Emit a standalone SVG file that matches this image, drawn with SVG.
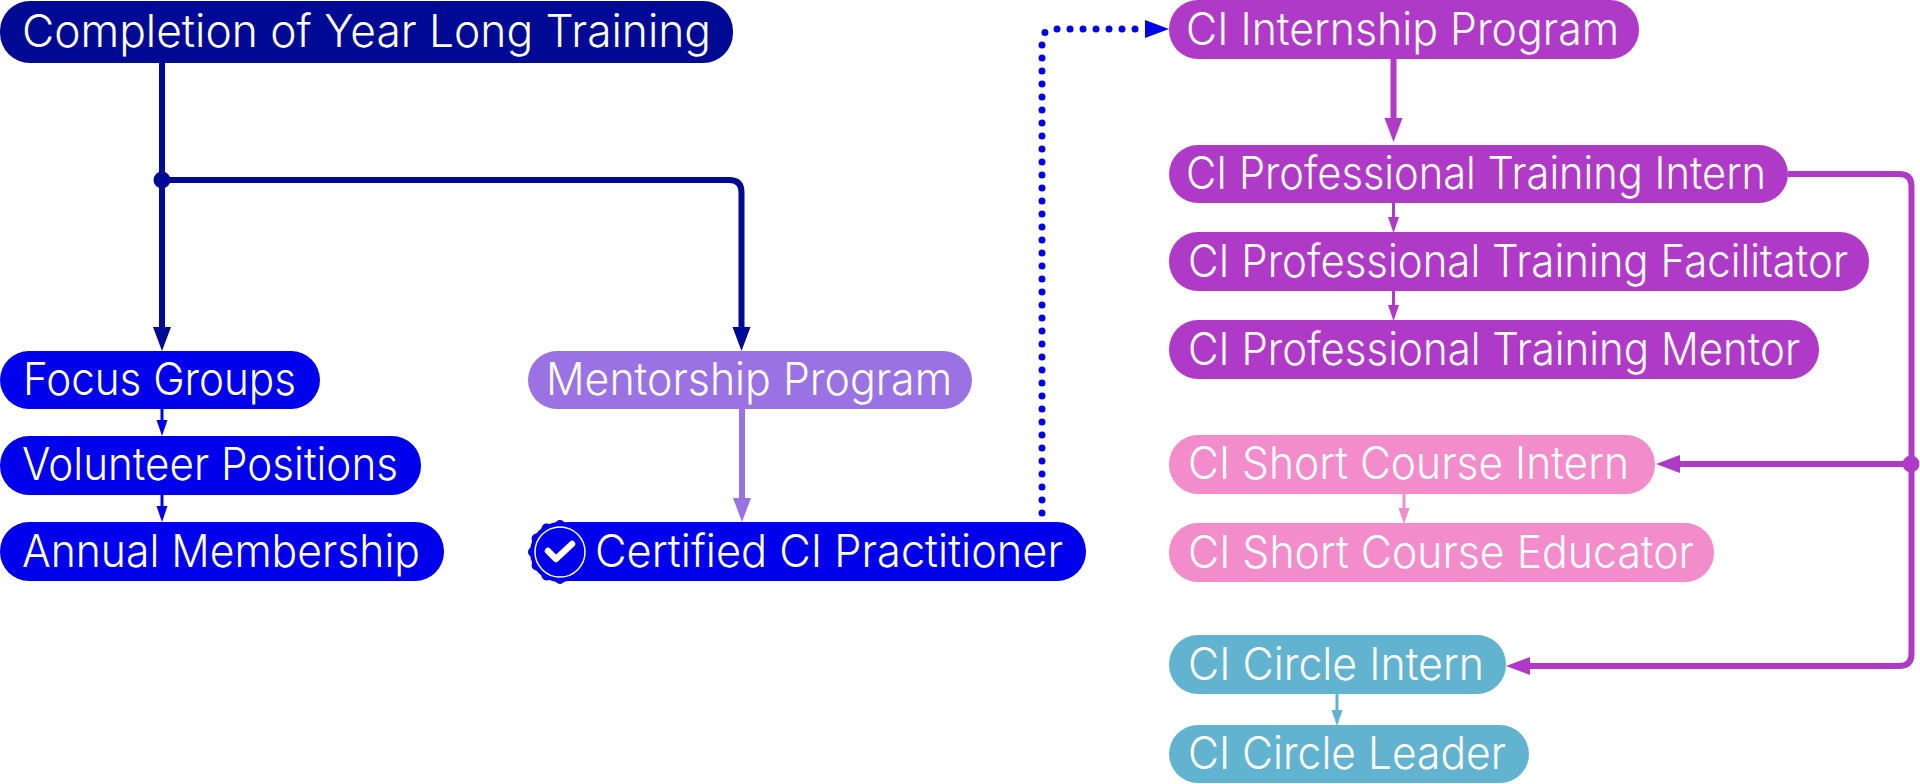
<svg xmlns="http://www.w3.org/2000/svg" width="1920" height="784" viewBox="0 0 1920 784">
<style>
text{font-family:"Inter","Liberation Sans",sans-serif;font-weight:300;font-size:45px;fill:#fff}
.c{fill:none;stroke-linecap:butt;stroke-linejoin:round}
.navy{fill:#000A94}.blue{fill:#0000EA}.lav{fill:#9B72E4}.pur{fill:#B03AC8}.pink{fill:#F28CCA}.teal{fill:#62B3D0}
.s-navy{stroke:#000A94}.s-blue{stroke:#0000EA}.s-lav{stroke:#9B72E4}.s-pur{stroke:#B03AC8}.s-pink{stroke:#F28CCA}.s-teal{stroke:#62B3D0}
.w6{stroke-width:6}.w3{stroke-width:3}
</style>
<defs>
<marker id="bn" markerUnits="userSpaceOnUse" markerWidth="25" markerHeight="20" refX="0" refY="10" orient="auto"><path class="navy" d="M0 1L24 10L0 19Z"/></marker>
<marker id="bl" markerUnits="userSpaceOnUse" markerWidth="25" markerHeight="20" refX="0" refY="10" orient="auto"><path class="lav" d="M0 1L24 10L0 19Z"/></marker>
<marker id="bb" markerUnits="userSpaceOnUse" markerWidth="25" markerHeight="20" refX="0" refY="10" orient="auto"><path class="blue" d="M0 1L24 10L0 19Z"/></marker>
<marker id="bp" markerUnits="userSpaceOnUse" markerWidth="25" markerHeight="20" refX="0" refY="10" orient="auto"><path class="pur" d="M0 1L24 10L0 19Z"/></marker>
<marker id="sb" markerUnits="userSpaceOnUse" markerWidth="16" markerHeight="12" refX="0" refY="6" orient="auto"><path class="blue" d="M0 .5L16 6L0 11.500Z"/></marker>
<marker id="sp" markerUnits="userSpaceOnUse" markerWidth="16" markerHeight="12" refX="0" refY="6" orient="auto"><path class="pur" d="M0 .5L16 6L0 11.500Z"/></marker>
<marker id="sk" markerUnits="userSpaceOnUse" markerWidth="16" markerHeight="12" refX="0" refY="6" orient="auto"><path class="pink" d="M0 .5L16 6L0 11.500Z"/></marker>
<marker id="st" markerUnits="userSpaceOnUse" markerWidth="16" markerHeight="12" refX="0" refY="6" orient="auto"><path class="teal" d="M0 .5L16 6L0 11.500Z"/></marker>
</defs>
<g id="connectors">
<path class="c s-navy w6" d="M162 60V327" marker-end="url(#bn)"/>
<path class="c s-navy w6" d="M162 180H729Q741.500 180 741.500 192V327" marker-end="url(#bn)"/>
<circle class="navy" cx="162" cy="180" r="8.500"/>
<path class="c s-blue w3" d="M162 409V420" marker-end="url(#sb)"/>
<path class="c s-blue w3" d="M162 495V506" marker-end="url(#sb)"/>
<path class="c s-lav w6" d="M742 409V498" marker-end="url(#bl)"/>
<path fill="none" class="s-blue" stroke-width="7" stroke-linecap="round" stroke-dasharray="0 13" d="M1042 513V42Q1042 29 1055 29H1145" marker-end="url(#bb)"/>
<path class="c s-pur w6" d="M1393.500 59V118" marker-end="url(#bp)"/>
<path class="c s-pur w3" d="M1393.500 203V217" marker-end="url(#sp)"/>
<path class="c s-pur w3" d="M1393.500 291V305" marker-end="url(#sp)"/>
<path class="c s-pur w6" d="M1788 174H1899Q1911.500 174 1911.500 186V654Q1911.500 666 1899 666H1530" marker-end="url(#bp)"/>
<path class="c s-pur w6" d="M1911.500 464H1680" marker-end="url(#bp)"/>
<circle class="pur" cx="1911" cy="464" r="8.500"/>
<path class="c s-pink w3" d="M1404 494V508" marker-end="url(#sk)"/>
<path class="c s-teal w3" d="M1337 694V710" marker-end="url(#st)"/>
</g>
<g id="n-completion"><rect class="navy" x="0" y="1" width="733" height="62" rx="30"/><text x="22" y="47" textLength="689" lengthAdjust="spacingAndGlyphs">Completion of Year Long Training</text></g>
<g id="n-focus"><rect class="blue" x="0" y="351" width="320" height="58" rx="29"/><text x="23" y="395" textLength="273" lengthAdjust="spacingAndGlyphs">Focus Groups</text></g>
<g id="n-volunteer"><rect class="blue" x="0" y="436" width="421" height="59" rx="29"/><text x="22" y="480" textLength="376" lengthAdjust="spacingAndGlyphs">Volunteer Positions</text></g>
<g id="n-annual"><rect class="blue" x="0" y="522" width="444" height="59" rx="29"/><text x="22" y="567" textLength="398" lengthAdjust="spacingAndGlyphs">Annual Membership</text></g>
<g id="n-mentorship"><rect class="lav" x="528" y="351" width="444" height="58" rx="29"/><text x="546" y="395" textLength="406" lengthAdjust="spacingAndGlyphs">Mentorship Program</text></g>
<g id="n-certified"><rect class="blue" x="540" y="522" width="546" height="59" rx="29"/>
<g class="blue"><circle cx="560" cy="552" r="30"/><circle cx="560" cy="525" r="5"/><circle cx="573.500" cy="528.600" r="5"/><circle cx="583.400" cy="538.500" r="5"/><circle cx="587" cy="552" r="5"/><circle cx="583.400" cy="565.500" r="5"/><circle cx="573.500" cy="575.400" r="5"/><circle cx="560" cy="579" r="5"/><circle cx="546.500" cy="575.400" r="5"/><circle cx="536.600" cy="565.500" r="5"/><circle cx="533" cy="552" r="5"/><circle cx="536.600" cy="538.500" r="5"/><circle cx="546.500" cy="528.600" r="5"/></g>
<circle cx="560" cy="552" r="25" fill="none" stroke="#fff" stroke-width="1.500"/>
<path d="M548 551L556 559L572 544" fill="none" stroke="#fff" stroke-width="6.500" stroke-linecap="round" stroke-linejoin="round"/>
<text x="595" y="567" textLength="468" lengthAdjust="spacingAndGlyphs">Certified CI Practitioner</text></g>
<g id="n-internship"><rect class="pur" x="1169" y="0" width="470" height="59" rx="29"/><text x="1186" y="45" textLength="433" lengthAdjust="spacingAndGlyphs">CI Internship Program</text></g>
<g id="n-prof-intern"><rect class="pur" x="1169" y="145" width="619" height="58" rx="29"/><text x="1186" y="189" textLength="580" lengthAdjust="spacingAndGlyphs">CI Professional Training Intern</text></g>
<g id="n-prof-facilitator"><rect class="pur" x="1169" y="232" width="700" height="59" rx="29"/><text x="1188" y="277" textLength="660" lengthAdjust="spacingAndGlyphs">CI Professional Training Facilitator</text></g>
<g id="n-prof-mentor"><rect class="pur" x="1169" y="320" width="650" height="59" rx="29"/><text x="1188" y="365" textLength="612" lengthAdjust="spacingAndGlyphs">CI Professional Training Mentor</text></g>
<g id="n-short-intern"><rect class="pink" x="1169" y="435" width="486" height="59" rx="29"/><text x="1188" y="479" textLength="441" lengthAdjust="spacingAndGlyphs">CI Short Course Intern</text></g>
<g id="n-short-educator"><rect class="pink" x="1169" y="523" width="545" height="59" rx="29"/><text x="1188" y="568" textLength="506" lengthAdjust="spacingAndGlyphs">CI Short Course Educator</text></g>
<g id="n-circle-intern"><rect class="teal" x="1169" y="635" width="337" height="59" rx="29"/><text x="1188" y="680" textLength="296" lengthAdjust="spacingAndGlyphs">CI Circle Intern</text></g>
<g id="n-circle-leader"><rect class="teal" x="1169" y="725" width="360" height="58" rx="29"/><text x="1188" y="769" textLength="318" lengthAdjust="spacingAndGlyphs">CI Circle Leader</text></g>
</svg>
